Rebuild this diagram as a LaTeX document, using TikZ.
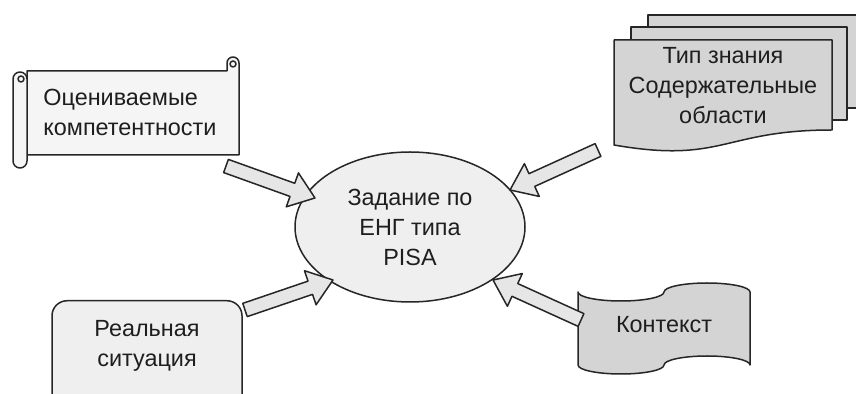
\documentclass[tikz,border=0pt]{standalone}
\usepackage{fontspec}
\setmainfont{Liberation Sans}
\usetikzlibrary{shapes.geometric, positioning, calc}
\definecolor{inkline}{HTML}{262626}
\definecolor{paper}{HTML}{F5F5F5}
\definecolor{bubble}{HTML}{EFEFEF}
\definecolor{arrowfill}{HTML}{E6E6E6}
\definecolor{docfill}{HTML}{D4D4D4}
\definecolor{inktext}{HTML}{1E1E1E}

\tikzset{
  outline/.style={draw=inkline, line width=0.75pt, line join=round},
  lbl/.style={inner sep=0pt, font=\fontsize{11.7}{15}\selectfont, text=inktext, align=center},
  blockarrow/.style={outline, fill=arrowfill},
}

\newcommand{\fatarrow}[2]{%
  \draw[blockarrow] let \p1=($(#2)-(#1)$), \n1={atan2(\y1,\x1)}, \n2={veclen(\x1,\y1)} in
    [shift={(#1)}, rotate=\n1]
    (0pt,-3.5pt) -- (\n2-12pt,-3.5pt) -- (\n2-12pt,-9pt) -- (\n2+0pt,0pt)
    -- (\n2-12pt,9pt) -- (\n2-12pt,3.5pt) -- (0pt,3.5pt) -- cycle;}

\begin{document}
\begin{tikzpicture}[x=0.5pt, y=-0.5pt]
  \useasboundingbox (0,0) rectangle (856,394);
  \clip (0,0) rectangle (856,394);

  % scroll
  \draw[outline, fill=paper] (27,71) -- (227,71) -- (227,63) arc[start angle=180, end angle=360, radius=6] -- (239,155) -- (27,155) -- cycle;
  \draw[outline] (233,64) circle (3);
  \draw[outline, fill=paper, rounded corners=3.5pt] (13,72) rectangle (27,168);
  \draw[outline] (21,79) circle (3);
  \node[lbl, align=left, anchor=west] (comp) at (43,112) {Оцениваемые\\компетентности};

  \node[outline, fill=bubble, ellipse, minimum width=115pt, minimum height=75pt, lbl] (task) at (410,227) {Задание по\\ЕНГ типа\\PISA};

  \node[outline, fill=bubble, rounded corners=7.5pt, minimum width=95pt, minimum height=60pt, anchor=north] (real) at (147,300) {};
  \node[lbl, below=10pt of real.north] (realtxt) {Реальная\\ситуация};

  % documents
  \draw[outline, fill=docfill] (648,15) rectangle (866,108);
  \draw[outline, fill=docfill] (631,27) rectangle (847,120);
  \draw[outline, fill=docfill] (614,40) -- (832,40) -- (832,130) .. controls (723,130) and (723,164) .. (614,145) -- cycle;
  \node[lbl] (kind) at (723,86) {Тип знания\\Содержательные\\области};

  % tape
  \draw[outline, fill=docfill] (578,292)
    arc[start angle=180, end angle=0, x radius=43, y radius=9]
    arc[start angle=180, end angle=360, x radius=43, y radius=9] -- (750,365)
    arc[start angle=360, end angle=180, x radius=43, y radius=9]
    arc[start angle=0, end angle=180, x radius=43, y radius=9] -- cycle;
  \node[lbl] (ctx) at (664,325) {Контекст};

  \coordinate (compout) at (226,166);
  \coordinate (kindout) at (598,150);
  \coordinate (realout) at (245,310);
  \coordinate (ctxout) at (581,320);
  \coordinate (taskin1) at (315,198);
  \coordinate (taskin2) at (510,190);
  \coordinate (taskin3) at (333,280);
  \coordinate (taskin4) at (493,280);

  \fatarrow{compout}{taskin1}
  \fatarrow{kindout}{taskin2}
  \fatarrow{realout}{taskin3}
  \fatarrow{ctxout}{taskin4}
\end{tikzpicture}
\end{document}
